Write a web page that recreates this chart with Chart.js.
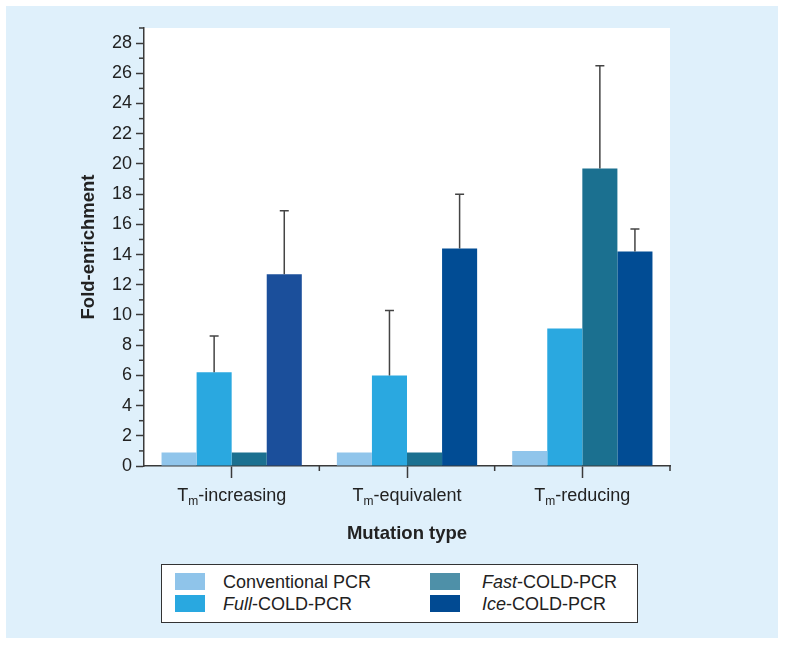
<!DOCTYPE html>
<html>
<head>
<meta charset="utf-8">
<script src="https://cdn.jsdelivr.net/npm/chart.js@4.4.0/dist/chart.umd.min.js"></script>
<style>
  html, body { margin: 0; padding: 0; background: #fff; }
  body { width: 785px; height: 646px; position: relative; overflow: hidden; font-family: "Liberation Sans", Arial, sans-serif; }
  #panel { position: absolute; left: 6px; top: 6px; width: 772px; height: 632px; background: #dff0fb; }
  #chart { position: absolute; left: 0; top: 0; }
  #legend { position: absolute; left: 161px; top: 564px; width: 475px; height: 57px; background: #fff; border: 1.5px solid #333; }
  .item { position: absolute; height: 18px; font-size: 18px; line-height: 18px; color: #222; white-space: nowrap; }
  .sw { position: absolute; left: 0; top: 0; width: 30px; height: 17px; }
  .txt { position: absolute; top: 0; }
</style>
</head>
<body>
<div id="panel"></div>
<canvas id="chart" width="785" height="646"></canvas>
<div id="legend"></div>
<script>
Chart.defaults.font.family = '"Liberation Sans", Arial, sans-serif';
Chart.defaults.font.size = 18;
Chart.defaults.color = '#222';

// data
const categories = ['Tm-increasing', 'Tm-equivalent', 'Tm-reducing'];
const seriesNames = ['Conventional PCR', 'Full-COLD-PCR', 'Fast-COLD-PCR', 'Ice-COLD-PCR'];
const conventional = [0.9, 0.9, 1.0];
const fullCold = [6.2, 6.0, 9.1];
const fastCold = [0.9, 0.9, 19.7];
const iceCold = [12.7, 14.4, 14.2];
// upper error bar lengths (null = none shown)
const fullErr = [2.4, 4.3, null];
const fastErr = [null, null, 6.8];
const iceErr = [4.2, 3.6, 1.5];

const barColors = [
  ['#90c5eb', '#90c5eb', '#90c5eb'],
  ['#2aa8e0', '#2aa8e0', '#2aa8e0'],
  ['#1b7090', '#1b7090', '#1b7090'],
  ['#1b4f9b', '#014c94', '#014c94']
];
const legendColors = ['#8fc4ea', '#29a8e0', '#4e90a8', '#014a92'];

const axisColor = '#3a3a3a';

const errorBars = {
  id: 'errorBars',
  afterDatasetsDraw(chart) {
    const ctx = chart.ctx;
    const y = chart.scales.y;
    ctx.save();
    ctx.strokeStyle = '#444';
    ctx.lineWidth = 1.5;
    chart.data.datasets.forEach((ds, di) => {
      if (!ds.err) return;
      const meta = chart.getDatasetMeta(di);
      meta.data.forEach((bar, i) => {
        const e = ds.err[i];
        if (e == null) return;
        const top = y.getPixelForValue(ds.data[i] + e);
        ctx.beginPath();
        ctx.moveTo(bar.x, bar.y);
        ctx.lineTo(bar.x, top);
        ctx.moveTo(bar.x - 4.5, top);
        ctx.lineTo(bar.x + 4.5, top);
        ctx.stroke();
      });
    });
    ctx.restore();
  }
};

const extras = {
  id: 'extras',
  beforeDraw(chart) {
    const a = chart.chartArea;
    chart.ctx.save();
    chart.ctx.fillStyle = '#fff';
    chart.ctx.fillRect(a.left, a.top, a.right - a.left, a.bottom - a.top);
    chart.ctx.restore();
  },
  afterDraw(chart) {
    const ctx = chart.ctx;
    const a = chart.chartArea;
    const x = chart.scales.x;
    const y = chart.scales.y;
    ctx.save();
    ctx.strokeStyle = axisColor;
    ctx.lineWidth = 1.5;
    // minor y ticks
    for (let v = 1; v <= y.max; v += 2) {
      const py = y.getPixelForValue(v);
      ctx.beginPath();
      ctx.moveTo(a.left - 5, py);
      ctx.lineTo(a.left, py);
      ctx.stroke();
    }
    // category boundary ticks
    const half = (x.getPixelForValue(1) - x.getPixelForValue(0)) / 2;
    for (let i = 0; i < categories.length; i++) {
      const px = x.getPixelForValue(i) + half;
      ctx.beginPath();
      ctx.moveTo(px, a.bottom);
      ctx.lineTo(px, a.bottom + 5);
      ctx.stroke();
    }
    // x tick labels with subscript
    ctx.fillStyle = '#222';
    ctx.textBaseline = 'alphabetic';
    ctx.textAlign = 'left';
    const big = '18px "Liberation Sans", Arial, sans-serif';
    const small = '12px "Liberation Sans", Arial, sans-serif';
    categories.forEach((lab, i) => {
      const main = lab.slice(0, 1), sub = lab.slice(1, 2), rest = lab.slice(2);
      ctx.font = big; const w1 = ctx.measureText(main).width; const w3 = ctx.measureText(rest).width;
      ctx.font = small; const w2 = ctx.measureText(sub).width;
      let px = x.getPixelForValue(i) - (w1 + w2 + w3) / 2;
      const base = a.bottom + 35;
      ctx.font = big; ctx.fillText(main, px, base); px += w1;
      ctx.font = small; ctx.fillText(sub, px, base + 4); px += w2;
      ctx.font = big; ctx.fillText(rest, px, base);
    });
    ctx.restore();
  }
};

const values = [conventional, fullCold, fastCold, iceCold];
const errs = [null, fullErr, fastErr, iceErr];

new Chart(document.getElementById('chart'), {
  type: 'bar',
  data: {
    labels: categories,
    datasets: seriesNames.map((name, k) => ({
      label: name,
      data: values[k],
      err: errs[k],
      backgroundColor: barColors[k],
      borderWidth: 0,
      categoryPercentage: 0.8,
      barPercentage: 1.0
    }))
  },
  options: {
    responsive: false,
    animation: false,
    devicePixelRatio: 1,
    layout: { padding: { left: 74, top: 28, right: 115, bottom: 97 } },
    plugins: { legend: { display: false }, tooltip: { enabled: false } },
    scales: {
      x: {
        afterFit(s) { s.height = 83; },
        grid: { display: true, drawOnChartArea: false, offset: false, tickLength: 12, tickColor: axisColor, tickWidth: 1.5 },
        border: { color: axisColor, width: 1.5 },
        ticks: { display: false },
        title: { display: true, text: 'Mutation type', font: { size: 18.5, weight: 'bold' }, color: '#222' }
      },
      y: {
        min: 0,
        max: 29,
        afterFit(s) { s.width = 70; },
        grid: {
          drawOnChartArea: false,
          tickLength: 8,
          tickWidth: 1.5,
          tickColor: (c) => (c.tick && c.tick.value % 2 === 0) ? axisColor : 'rgba(0,0,0,0)'
        },
        border: { color: axisColor, width: 1.5 },
        ticks: {
          stepSize: 1,
          maxTicksLimit: 40,
          autoSkip: false,
          padding: 4,
          color: '#222',
          callback: (v) => v % 2 === 0 ? v : ''
        },
        title: { display: true, text: 'Fold-enrichment', font: { size: 18.5, weight: 'bold' }, color: '#222' }
      }
    }
  },
  plugins: [errorBars, extras]
});

// legend (two columns, column-major like the figure)
const legend = document.getElementById('legend');
const slots = [[13, 8, 48], [13, 30, 48], [268, 8, 52], [268, 30, 52]];
seriesNames.forEach((name, k) => {
  const item = document.createElement('div');
  item.className = 'item';
  item.style.left = slots[k][0] + 'px';
  item.style.top = slots[k][1] + 'px';
  const sw = document.createElement('div');
  sw.className = 'sw';
  sw.style.background = legendColors[k];
  const txt = document.createElement('div');
  txt.className = 'txt';
  txt.style.left = slots[k][2] + 'px';
  if (name.includes('-COLD')) {
    const cut = name.indexOf('-');
    const it = document.createElement('i');
    it.textContent = name.slice(0, cut);
    txt.appendChild(it);
    txt.appendChild(document.createTextNode(name.slice(cut)));
  } else {
    txt.textContent = name;
  }
  item.appendChild(sw);
  item.appendChild(txt);
  legend.appendChild(item);
});
</script>
</body>
</html>
